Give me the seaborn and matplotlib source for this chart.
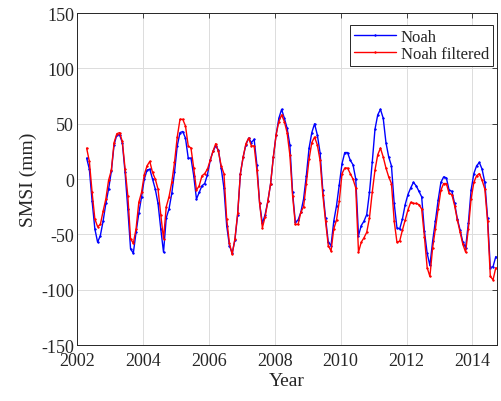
import numpy as np
import pandas as pd
import matplotlib
matplotlib.use("Agg")
import matplotlib.pyplot as plt
import seaborn as sns

# monthly series, starting April 2002
start_year = 2002
start_month = 4

noah = [19, 9, -20, -45, -57, -51, -38, -22, -9, 7, 31, 40,
        40, 33, 6, -27, -63, -67, -48, -31, -16, 0, 8, 9,
        0, -9, -22, -45, -66, -35, -27, -13, 6, 30, 42, 43,
        37, 19, 19, 3, -18, -12, -6, -4, 4, 17, 25, 30,
        26, 10, -8, -42, -60, -67, -55, -32, 5, 20, 31, 37,
        33, 36, 13, -22, -40, -32, -20, -4, 20, 40, 55, 63,
        55, 46, 31, -12, -39, -37, -30, -18, 3, 28, 42, 50,
        40, 24, -10, -35, -57, -60, -38, -24, -5, 14, 24, 24,
        17, 13, 0, -51, -42, -38, -32, -12, 15, 45, 58, 63,
        55, 33, 20, 12, -22, -44, -45, -36, -23, -14, -8, -3,
        -6, -11, -16, -47, -67, -78, -56, -38, -19, -3, 2, 1,
        -10, -11, -22, -36, -46, -57, -62, -40, -10, 5, 12, 15,
        9, -3, -35, -80, -79, -70]

noah_filtered = [28, 16, -12, -36, -43, -41, -29, -18, -1, 8, 33, 41,
                 42, 34, 9, -15, -54, -58, -45, -21, -12, 4, 12, 16,
                 6, 0, -9, -32, -54, -25, -16, -3, 15, 38, 54, 54,
                 48, 30, 28, 10, -10, -6, 3, 5, 9, 17, 25, 32,
                 25, 12, 5, -36, -58, -68, -54, -31, 5, 20, 32, 37,
                 30, 30, 8, -22, -44, -34, -20, -4, 20, 40, 52, 58,
                 52, 42, 22, -15, -41, -41, -30, -25, -4, 18, 33, 38,
                 31, 17, -14, -38, -60, -65, -45, -37, -20, 5, 10, 10,
                 5, 0, -8, -66, -57, -53, -48, -35, -12, 8, 22, 28,
                 20, 10, 2, -4, -38, -57, -56, -46, -37, -28, -21, -22,
                 -22, -23, -27, -52, -80, -88, -62, -45, -27, -10, -4, -4,
                 -13, -14, -24, -37, -48, -59, -66, -45, -18, -3, 3, 5,
                 -1, -9, -38, -88, -91, -80]

series_names = ["Noah", "Noah filtered"]
colors = {"Noah": "#0000ff", "Noah filtered": "#ff0000"}

n = len(noah)
months = np.arange(n) + (start_month - 1)
year = start_year + (months + 0.5) / 12.0

df = pd.concat([
    pd.DataFrame({"Year": year, "SMSI": noah, "series": "Noah"}),
    pd.DataFrame({"Year": year, "SMSI": noah_filtered, "series": "Noah filtered"}),
])

sns.set_style("white")
plt.rcParams["font.family"] = ["Liberation Serif", "DejaVu Serif"]
plt.rcParams["axes.unicode_minus"] = False

fig = plt.figure(figsize=(5.02, 4.02), dpi=100)
ax = fig.add_axes([0.1534, 0.139, 0.837, 0.826])

sns.lineplot(
    ax=ax,
    data=df,
    x="Year",
    y="SMSI",
    hue="series",
    hue_order=series_names,
    palette=colors,
    marker=".",
    markersize=2.5,
    linewidth=1.0,
    legend=False,
)
for line in ax.lines:
    line.set_markeredgecolor(line.get_color())
    line.set_markeredgewidth(0.4)

ax.set_xlim(2002, 2014.75)
ax.set_ylim(-150, 150)
ax.set_xticks([2002, 2004, 2006, 2008, 2010, 2012, 2014])
ax.set_yticks([-150, -100, -50, 0, 50, 100, 150])
ax.grid(True, color="#dcdcdc", linewidth=0.7)
ax.set_axisbelow(True)

for sp in ax.spines.values():
    sp.set_color("#262626")
    sp.set_linewidth(0.7)
ax.tick_params(direction="in", length=3.5, width=0.6, color="#262626",
               labelsize=13, top=True, right=True)
ax.tick_params(axis="x", pad=5)
ax.tick_params(axis="y", pad=2)

ax.set_xlabel("Year", fontsize=14, labelpad=2)
ax.set_ylabel("SMSI (mm)", fontsize=14, labelpad=3)

leg = ax.legend(ax.lines[:2], series_names, loc="upper right",
                bbox_to_anchor=(0.99, 0.965), fontsize=12,
                fancybox=False, framealpha=1, edgecolor="#262626",
                handlelength=2.5, handletextpad=0.3, borderpad=0.25,
                labelspacing=0.05, borderaxespad=0)
leg.get_frame().set_linewidth(0.7)

plt.savefig("out.png", dpi=100)
